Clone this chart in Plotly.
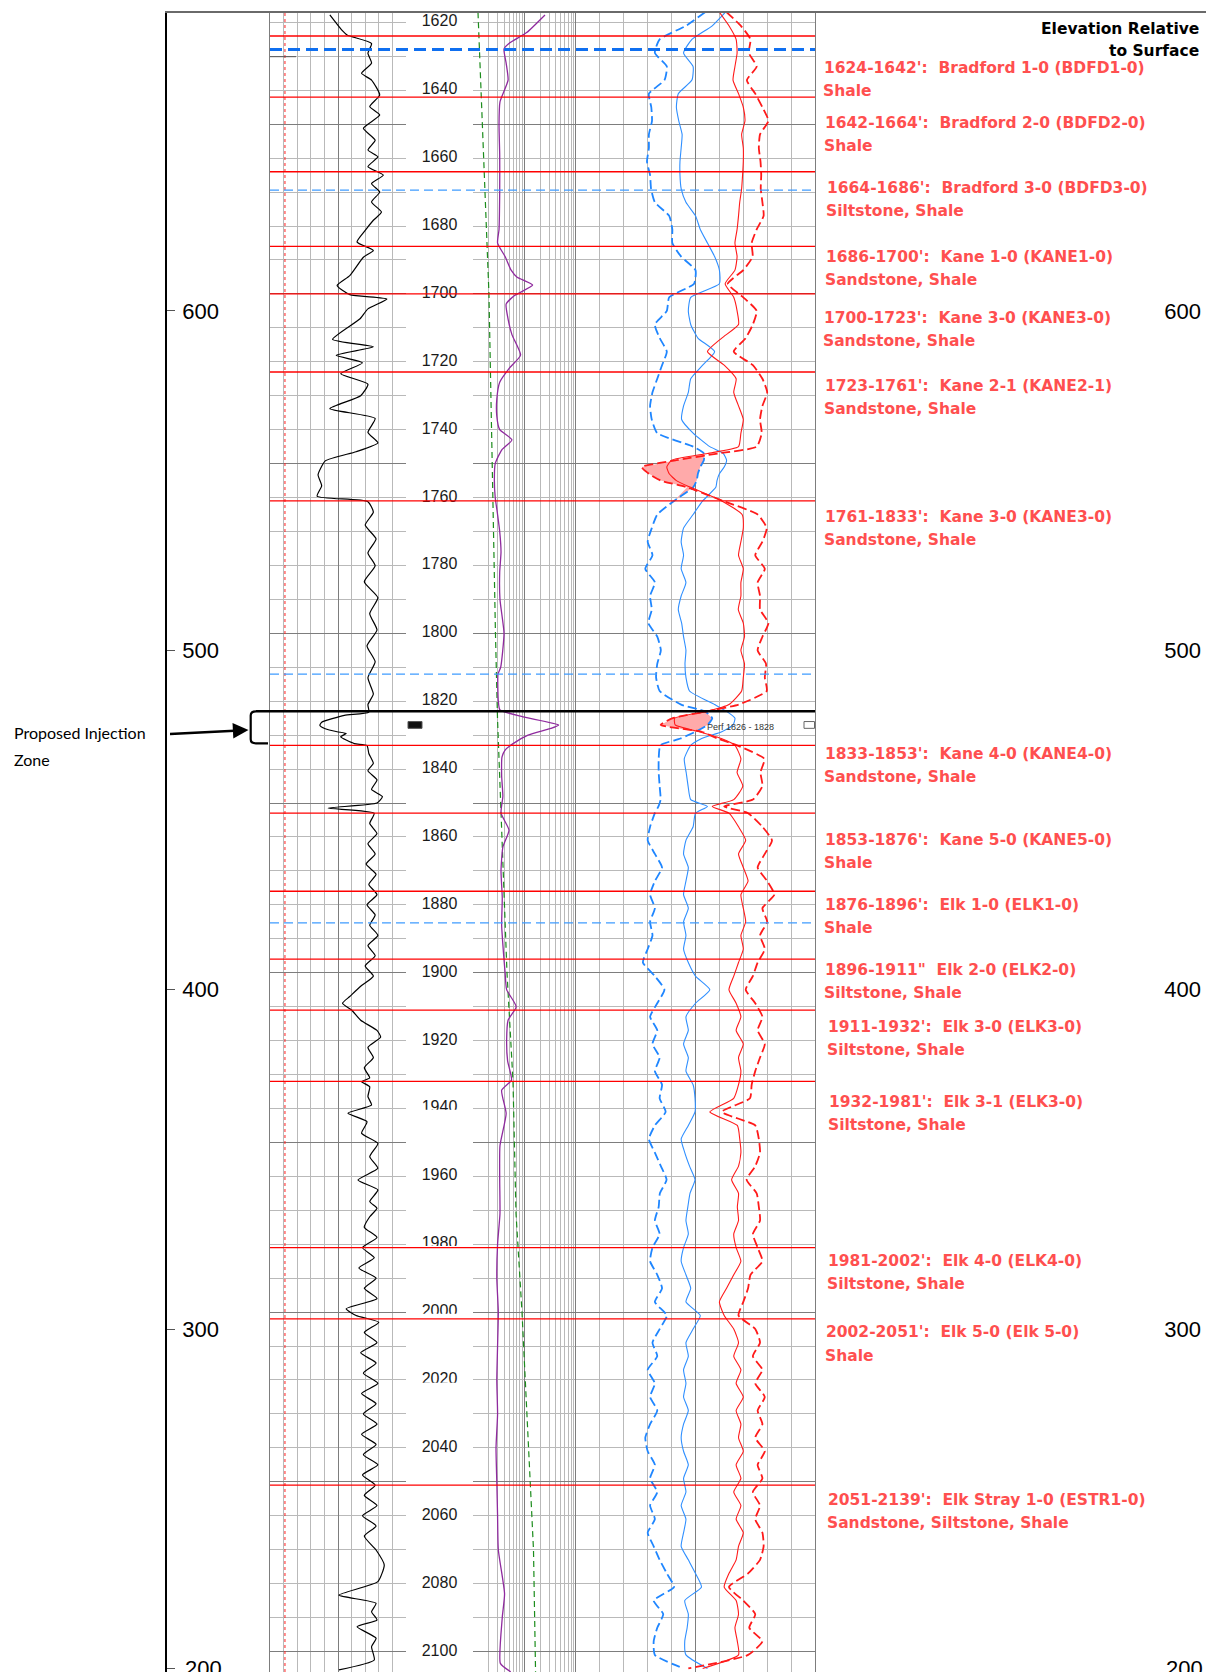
import plotly.graph_objects as go

# ---------------------------------------------------------------- data
KB_ELEV = 2305            # elevation = KB_ELEV - depth
TOP_DEPTH, BASE_DEPTH = 1617.23, 2106.04

formation_tops = [1624, 1642, 1664, 1686, 1700, 1723, 1761, 1833, 1853,
                  1876, 1896, 1911, 1932, 1981, 2002, 2051]
marker_thin = [1669.4, 1812, 1885.3]
marker_thick = 1628
injection_top, injection_base = 1823, 1832.4
perf_top, perf_base = 1826, 1828
bit_line_api = 16.5

zone_titles = [
    "1624-1642':  Bradford 1-0 (BDFD1-0)",
    "1642-1664':  Bradford 2-0 (BDFD2-0)",
    "1664-1686':  Bradford 3-0 (BDFD3-0)",
    "1686-1700':  Kane 1-0 (KANE1-0)",
    "1700-1723':  Kane 3-0 (KANE3-0)",
    "1723-1761':  Kane 2-1 (KANE2-1)",
    "1761-1833':  Kane 3-0 (KANE3-0)",
    "1833-1853':  Kane 4-0 (KANE4-0)",
    "1853-1876':  Kane 5-0 (KANE5-0)",
    "1876-1896':  Elk 1-0 (ELK1-0)",
    '1896-1911"  Elk 2-0 (ELK2-0)',
    "1911-1932':  Elk 3-0 (ELK3-0)",
    "1932-1981':  Elk 3-1 (ELK3-0)",
    "1981-2002':  Elk 4-0 (ELK4-0)",
    "2002-2051':  Elk 5-0 (Elk 5-0)",
    "2051-2139':  Elk Stray 1-0 (ESTR1-0)",
]
zone_lithology = [
    "Shale", "Shale", "Siltstone, Shale", "Sandstone, Shale", "Sandstone, Shale",
    "Sandstone, Shale", "Sandstone, Shale", "Sandstone, Shale", "Shale", "Shale",
    "Siltstone, Shale", "Siltstone, Shale", "Siltstone, Shale", "Siltstone, Shale",
    "Shale", "Sandstone, Siltstone, Shale",
]

depth_labels = list(range(1620, 2101, 20))
elev_ticks = [200, 300, 400, 500, 600]

# track 1: gamma ray (API, 0-150)
gr_depth = [1617.8, 1622.2, 1623.7, 1626.2, 1629.1, 1632.0, 1635.0, 1637.0, 1641.4, 1644.8,
            1647.3, 1651.2, 1654.7, 1657.6, 1659.6, 1662.5, 1665.0, 1667.5, 1670.0, 1672.9,
            1675.9, 1678.3, 1681.3, 1684.7, 1687.2, 1689.2, 1694.6, 1697.5, 1700.2, 1701.5,
            1704.4, 1707.4, 1713.4, 1715.6, 1718.1, 1720.3, 1723.5, 1726.6, 1730.0, 1733.8,
            1736.7, 1740.8, 1743.9, 1746.5, 1749.2, 1753.3, 1756.5, 1759.6, 1761.2, 1764.3,
            1768.1, 1772.2, 1776.3, 1780.1, 1784.8, 1789.5, 1794.2, 1799.0, 1803.7, 1808.4,
            1813.1, 1817.9, 1821.0, 1823.2, 1824.2, 1826.2, 1827.1, 1828.1, 1829.0, 1829.5,
            1830.5, 1832.5, 1833.1, 1835.4, 1838.3, 1840.5, 1843.2, 1846.0, 1848.1, 1850.0,
            1851.5, 1853.0, 1856, 1859, 1862, 1865, 1868, 1871, 1874, 1877,
            1880, 1883, 1886, 1889, 1892, 1895, 1898, 1901, 1904, 1907,
            1909, 1911, 1914, 1917, 1919, 1922, 1925, 1928, 1931, 1932.1,
            1933.6, 1936.5, 1939.0, 1941.4, 1943.9, 1947.3, 1950.3, 1954.2, 1957.6, 1961.1,
            1964.0, 1967.4, 1969.4, 1971.9, 1975, 1978, 1981, 1984, 1987, 1990,
            1993, 1996, 1999, 2001, 2003, 2006, 2009, 2012, 2015, 2018,
            2021, 2024, 2027, 2030, 2033, 2036, 2039, 2042, 2045, 2048,
            2051, 2054, 2057, 2060, 2063, 2066, 2070.1, 2074.5, 2079.4, 2083.4,
            2085.8, 2088.3, 2090.7, 2092.7, 2096.1, 2098.6, 2102.5, 2105.4]
gr_api = [66, 79, 85, 112, 108, 112, 101, 112, 121, 110,
          121, 103, 116, 108, 119, 108, 125, 112, 121, 112,
          123, 114, 105, 96, 114, 103, 88, 74, 88, 129,
          108, 99, 69, 114, 73, 102, 78, 108, 100, 66,
          116, 108, 119, 95, 61, 53, 57, 52, 108, 114,
          105, 117, 108, 116, 104, 119, 110, 118, 107, 116,
          108, 114, 108, 109, 82, 57, 55, 61, 74, 84,
          78, 93, 107, 109, 114, 108, 118, 112, 124, 118,
          64, 115, 110, 118, 108, 116, 106, 117, 109, 118,
          107, 116, 110, 119, 108, 116, 105, 114, 100, 88,
          80, 90, 100, 118, 122, 108, 114, 104, 110, 101,
          110, 108, 112, 86, 107, 101, 119, 110, 119, 97,
          119, 110, 118, 110, 104, 118, 102, 115, 98, 117,
          104, 118, 84, 95, 120, 104, 118, 100, 117, 103,
          119, 101, 117, 103, 118, 101, 117, 103, 119, 102,
          116, 104, 118, 102, 117, 104, 117, 126, 119, 76,
          117, 112, 118, 96, 117, 112, 115, 76]

# track 2: purple resistivity-type curve (log, 1-100) and green dashed curve
purple_depth = [1617.8, 1623, 1626, 1627.8, 1632, 1637, 1643.4, 1650, 1659, 1670,
                1681, 1685, 1689, 1693, 1695, 1697.4, 1700.4, 1703, 1707.4, 1712,
                1718, 1722, 1726, 1731, 1736, 1740, 1743, 1746, 1750, 1755,
                1760, 1765, 1770, 1776, 1782, 1790, 1800, 1810, 1812, 1820,
                1822.6, 1824.6, 1827, 1828, 1830, 1832.5, 1834.4, 1836.4, 1842, 1848,
                1853, 1858, 1863, 1870, 1878, 1886, 1894, 1900, 1905, 1910,
                1914, 1920, 1926, 1931.6, 1934.6, 1941.5, 1951, 1961, 1971, 1980,
                1990, 2000, 2010, 2020, 2030, 2040, 2050, 2060, 2070, 2083,
                2090, 2103.5, 2106]
purple_val = [25, 11, 5.2, 4.0, 4.4, 4.8, 3.34, 3.2, 3.3, 3.3,
              3.2, 3.0, 4.2, 5.5, 7.1, 14.4, 6.5, 4.4, 4.8, 5.7,
              8.4, 5.0, 3.3, 2.9, 2.9, 3.3, 5.7, 3.6, 2.7, 2.6,
              2.7, 3.0, 3.3, 3.5, 3.3, 3.34, 4.0, 3.45, 3.06, 3.1,
              3.34, 9.35, 46, 32.6, 11.7, 6.0, 4.2, 3.66, 3.6, 3.8,
              3.5, 5.0, 3.8, 3.5, 3.7, 3.6, 3.9, 4.2, 4.5, 6.9,
              4.8, 4.5, 4.7, 5.6, 3.6, 4.4, 3.34, 3.3, 3.34, 3.0,
              2.9, 3.1, 3.0, 2.9, 3.0, 2.8, 2.9, 3.0, 3.1, 4.1,
              3.7, 3.4, 5.4]
green_depth = [1617, 1700, 1800, 1825, 1900, 1932, 1971, 2000, 2070, 2106]
green_val = [1.25, 2.04, 2.73, 2.99, 4.57, 5.98, 6.84, 8.94, 14.95, 16.4]

# track 3: four curves on a common depth grid (0-100 track scale)
t3_depth = [1617, 1621, 1625, 1629, 1633, 1637, 1641, 1645, 1649, 1653,
            1657, 1661, 1665, 1669, 1673, 1677, 1681, 1685, 1689, 1693,
            1697, 1701, 1705, 1709, 1713, 1717, 1721, 1725, 1729, 1733,
            1737, 1741, 1745, 1747, 1749, 1751, 1753, 1755, 1757, 1761,
            1765, 1769, 1773, 1777, 1781, 1785, 1789, 1793, 1797, 1801,
            1805, 1809, 1813, 1817, 1821, 1823, 1825, 1827, 1829, 1831,
            1833, 1837, 1841, 1845, 1849, 1851, 1853, 1857, 1861, 1865,
            1869, 1873, 1877, 1881, 1885, 1889, 1893, 1897, 1901, 1905,
            1909, 1913, 1917, 1921, 1925, 1929, 1933, 1937, 1941, 1945,
            1949, 1953, 1957, 1961, 1965, 1969, 1973, 1977, 1981, 1985,
            1989, 1993, 1997, 2001, 2005, 2009, 2013, 2017, 2021, 2025,
            2029, 2033, 2037, 2041, 2045, 2049, 2053, 2057, 2061, 2065,
            2069, 2073, 2077, 2081, 2085, 2089, 2093, 2097, 2101, 2105]
blue_dash = [54, 46, 35, 33, 38, 37, 30.5, 31.5, 31.8, 30.5,
             30.5, 29.7, 31, 31.4, 33, 39, 40.3, 40.3, 44, 50,
             49.4, 39, 38, 33, 35, 38, 36, 34, 32, 31,
             31.7, 34, 49, 53.5, 53.5, 52, 51, 50.5, 49, 41,
             34, 31.7, 30, 32, 29, 33, 31, 31.7, 30.3, 34,
             35.5, 34, 33.5, 35, 44, 54, 57, 55, 50, 43.7,
             35.3, 34.6, 34.6, 35, 35.4, 34.5, 33, 31, 30, 33,
             36, 33, 31, 33, 31, 32, 30, 28, 33, 37,
             34, 31, 34, 32, 35, 33, 36, 35, 37.5, 33,
             30.5, 33, 35.5, 37.9, 35.1, 34.6, 33, 35, 32, 31,
             34, 36, 33, 38, 35, 32, 34, 30, 33, 31,
             34, 31, 29, 30, 33, 31, 34, 31, 33, 30,
             32.5, 35, 38, 41, 32.5, 36.5, 34, 32.5, 33, 45]
blue_solid = [62.5, 57, 48.5, 45, 49, 48.5, 42.8, 42, 43, 44.4,
              44, 43.5, 43.5, 44, 46, 50, 52, 55, 58, 60,
              60, 48, 47, 48, 51, 58, 53, 48, 47, 45,
              44.2, 49, 56, 61.6, 63, 62, 60, 59, 58.5, 53,
              49, 45, 44, 45, 44, 46, 44, 42.8, 44.2, 45,
              46, 45.6, 46, 47.5, 58, 63, 66.5, 65.7, 61, 52.6,
              48, 45.3, 46.1, 46.9, 48, 55, 50, 49, 46, 45,
              47, 46, 45, 47, 45, 46, 45, 47, 50, 56,
              50, 46, 47, 45, 47, 46, 49, 49.8, 49.8, 47,
              44, 45.5, 47.5, 49.8, 47.7, 46.8, 46, 47, 45, 44,
              46, 48, 46, 52, 49, 46, 47, 45, 46, 45,
              47, 45, 44, 45, 47, 45, 46, 44, 46, 45,
              44, 47, 50, 52.5, 45.5, 47, 46.5, 45.5, 46, 55]
red_solid = [60, 64, 67, 67.4, 66.5, 65.7, 68, 70, 70.7, 69.3,
             70, 70, 69.7, 69.3, 68.5, 68, 67.4, 66.5, 67.4, 66.5,
             62.4, 66, 67.4, 68, 61, 55, 62, 67, 66, 68,
             70, 69, 68, 55, 40, 38, 39, 42, 48, 61,
             69.5, 70, 69, 68, 70, 69, 69, 67.9, 70, 70.5,
             69, 70.5, 70, 69.3, 64, 55, 41.3, 41.5, 51.5, 60.8,
             66.5, 69, 67.4, 69.8, 66, 57, 64, 68, 71, 68,
             70, 72, 69, 70, 71, 69, 70, 68, 66, 64,
             67, 69, 67, 70, 68, 69, 68, 66, 56, 67.5,
             68.5, 69, 68, 65.1, 68, 67.5, 68, 66, 67, 69,
             66, 63, 60, 62, 66, 68, 66, 69, 67, 70,
             67, 69, 68, 70, 67, 69, 66, 69, 67, 70,
             68, 67, 64, 62, 67, 68, 66.5, 67.5, 68, 53]
red_dash = [63, 69, 73, 72.3, 75.6, 71.5, 75, 78, 80.5, 77,
            76.5, 77.2, 77.5, 77.3, 78, 78.5, 75.6, 73.5, 73.9, 70,
            63.5, 70, 75.6, 74, 71, 66, 74, 78, 80, 78,
            77, 77.7, 75.6, 59.5, 42, 27.5, 30.5, 35.5, 46.5, 61.6,
            76, 79.8, 78, 75, 79, 76, 77, 77, 80.5, 78,
            76, 79.5, 79, 79.8, 68, 54.8, 40.5, 35.4, 52.6, 59.2,
            67.4, 78.8, 77.2, 78, 74, 62, 72, 78, 82, 79,
            76, 80, 83, 78, 80, 77, 79, 76, 74, 71,
            75, 78, 76, 79, 77, 75, 73.5, 72.8, 61, 75,
            76.5, 77, 75, 71.4, 75.6, 76.5, 77, 74, 76, 78,
            73, 72, 70, 68, 75, 77, 74, 78, 75, 79,
            76, 78, 75, 79, 76, 78, 74, 77, 75, 78,
            78.5, 77, 72, 64, 70, 75, 72.5, 78, 72, 47]

# ---------------------------------------------------------------- layout helpers
# the page body keeps its default 8px margin, so the figure is 8px smaller
# and the margins are reduced by 8px to land the plot area where it belongs
BODY = 8
PAGE_W, PAGE_H = 1214, 1672
PLOT_L, PLOT_T = 167, 13          # plot area corner on the page
FIG_W, FIG_H = PAGE_W - BODY, PAGE_H - BODY
PLOT_W = PAGE_W - PLOT_L


def px(x):
    return (x - PLOT_L) / PLOT_W


TRACK1 = (px(270), px(406))
DEPTH_TRACK = (px(406), px(473))
TRACK2 = (px(473), px(576))
TRACK3 = (px(576), px(815))

GRID_MAJOR = "#7d7d7d"
GRID_MINOR = "#b9b9b9"
LABEL_RED = "#ff4f4f"
AXIS_FONT = "Arial, Liberation Sans, sans-serif"
LABEL_FONT = "DejaVu Sans, Verdana, sans-serif"

fig = go.Figure()

# frame / elevation axes need a trace each to be drawn
fig.add_trace(go.Scatter(x=[0.5], y=[400], xaxis="x", yaxis="y", mode="markers",
                         marker=dict(opacity=0), hoverinfo="skip", showlegend=False))
fig.add_trace(go.Scatter(x=[0.5], y=[400], xaxis="x", yaxis="y2", mode="markers",
                         marker=dict(opacity=0), hoverinfo="skip", showlegend=False))

# depth track labels
fig.add_trace(go.Scatter(x=[0.5] * len(depth_labels), y=depth_labels, xaxis="x5", yaxis="y6",
                         mode="text", text=[str(d) for d in depth_labels],
                         textposition="middle center",
                         textfont=dict(family=AXIS_FONT, size=16, color="#1a1a1a"),
                         hoverinfo="skip", showlegend=False))

# track 1
fig.add_trace(go.Scatter(x=[bit_line_api, bit_line_api], y=[TOP_DEPTH, BASE_DEPTH],
                         xaxis="x2", yaxis="y3", mode="lines",
                         line=dict(color="#ff2020", width=1, dash="dot"),
                         hoverinfo="skip", showlegend=False))
fig.add_trace(go.Scatter(x=gr_api, y=gr_depth, xaxis="x2", yaxis="y3", mode="lines",
                         line=dict(color="black", width=1.2, shape="spline", smoothing=0.5),
                         hoverinfo="skip", showlegend=False))

# track 2
fig.add_trace(go.Scatter(x=green_val, y=green_depth, xaxis="x3", yaxis="y4", mode="lines",
                         line=dict(color="#1c8c1c", width=1.2, dash="6px,4px"),
                         hoverinfo="skip", showlegend=False))
fig.add_trace(go.Scatter(x=purple_val, y=purple_depth, xaxis="x3", yaxis="y4", mode="lines",
                         line=dict(color="#8f2a9e", width=1.3, shape="spline", smoothing=0.5),
                         hoverinfo="skip", showlegend=False))

# track 3: crossover shading where the red dashed curve passes left of blue dashed
crossover = [min(r, b) for r, b in zip(red_dash, blue_dash)]
fig.add_trace(go.Scatter(x=blue_dash, y=t3_depth, xaxis="x4", yaxis="y5", mode="lines",
                         line=dict(width=0, color="rgba(0,0,0,0)"),
                         hoverinfo="skip", showlegend=False))
fig.add_trace(go.Scatter(x=crossover, y=t3_depth, xaxis="x4", yaxis="y5", mode="lines",
                         fill="tonextx", fillcolor="#ffaaaa",
                         line=dict(width=0, color="rgba(0,0,0,0)"),
                         hoverinfo="skip", showlegend=False))

t3_styles = [
    (blue_dash, dict(color="#1f86ff", width=1.8, dash="9px,4px")),
    (blue_solid, dict(color="#2f8fff", width=1.1)),
    (red_solid, dict(color="#ff1a1a", width=1.1)),
    (red_dash, dict(color="#ff1a1a", width=1.8, dash="9px,4px")),
]
for values, style in t3_styles:
    fig.add_trace(go.Scatter(x=values, y=t3_depth, xaxis="x4", yaxis="y5", mode="lines",
                             line=dict(shape="spline", smoothing=0.5, **style),
                             hoverinfo="skip", showlegend=False))

# ---------------------------------------------------------------- shapes
shapes = []

# depth labels partly hidden by blank boxes in the depth track
for cut in (1940.4, 1980.5, 2000.5, 2020.8):
    shapes.append(dict(type="rect", xref="paper", yref="y3", x0=px(407), x1=px(472),
                       y0=cut, y1=cut + 3.2, fillcolor="white", line=dict(width=0)))

for d in formation_tops:
    shapes.append(dict(type="line", xref="paper", yref="y3", x0=TRACK1[0], x1=TRACK3[1],
                       y0=d, y1=d, line=dict(color="#ff0000", width=1.3)))
for d in marker_thin:
    shapes.append(dict(type="line", xref="paper", yref="y3", x0=TRACK1[0], x1=TRACK3[1],
                       y0=d, y1=d, line=dict(color="#3f9cff", width=1.3, dash="9px,5px")))
shapes.append(dict(type="line", xref="paper", yref="y3", x0=TRACK1[0], x1=TRACK3[1],
                   y0=marker_thick, y1=marker_thick,
                   line=dict(color="#0f6ff0", width=3, dash="12px,6px")))
shapes.append(dict(type="line", xref="paper", yref="y3", x0=px(270), x1=px(296),
                   y0=1630.1, y1=1630.1, line=dict(color="#555555", width=1)))

# injection zone: top line plus bracket
bx, bx2, bx3 = px(250.7), px(256), px(268)
shapes.append(dict(type="line", xref="paper", yref="y3", x0=bx2, x1=TRACK3[1],
                   y0=injection_top, y1=injection_top, line=dict(color="black", width=2.5)))
shapes.append(dict(type="path", xref="paper", yref="y3",
                   path=(f"M {bx2},{injection_top} Q {bx},{injection_top} {bx},{injection_top + 1.2} "
                         f"L {bx},{injection_base - 1.2} Q {bx},{injection_base} {bx2},{injection_base} "
                         f"L {bx3},{injection_base}"),
                   line=dict(color="black", width=2.2)))

# perforation markers
shapes.append(dict(type="rect", xref="paper", yref="y3", x0=px(408), x1=px(422),
                   y0=perf_top, y1=perf_base, fillcolor="#111111",
                   line=dict(color="#555555", width=1)))
shapes.append(dict(type="rect", xref="paper", yref="y3", x0=px(804), x1=px(814.5),
                   y0=perf_top, y1=perf_base, fillcolor="white",
                   line=dict(color="#666666", width=1)))

# ---------------------------------------------------------------- annotations
ann = []
label_x = [822.4, 823, 825, 824.4, 821.5, 822.5, 822.5, 823, 822.5, 822.5,
           822.5, 826, 826.7, 825.7, 823.6, 825.7]
label_depth = [1633.3, 1649.7, 1668.7, 1689.0, 1707.1, 1727.2, 1765.8, 1835.6, 1860.8, 1880.0,
               1899.1, 1916.1, 1938.0, 1984.9, 2006.0, 2055.4]
for title, lith, x, d in zip(zone_titles, zone_lithology, label_x, label_depth):
    title = title.replace("  ", "\u00a0 ")
    for text, dy, dx in ((title, 0, 0), (lith, 6.8, -1)):
        ann.append(dict(x=px(x + dx), y=d + dy, xref="paper", yref="y3", xanchor="left",
                        text=f"<b>{text}</b>", showarrow=False,
                        font=dict(family=LABEL_FONT, size=15.5, color=LABEL_RED)))

ann.append(dict(x=px(1201), y=1621.9, xref="paper", yref="y3", xanchor="right",
                text="<b>Elevation Relative</b>", showarrow=False,
                font=dict(family=LABEL_FONT, size=15.5, color="black")))
ann.append(dict(x=px(1201), y=1628.4, xref="paper", yref="y3", xanchor="right",
                text="<b>to Surface</b>", showarrow=False,
                font=dict(family=LABEL_FONT, size=15.5, color="black")))

ann.append(dict(x=px(740), y=1827.7, xref="paper", yref="y3", text="Perf 1826 - 1828",
                showarrow=False, font=dict(family=AXIS_FONT, size=9, color="#333333")))

ann.append(dict(x=px(11.5), y=1829.3, xref="paper", yref="y3", xanchor="left",
                text="Proposed Injection", showarrow=False,
                font=dict(family="Lato, sans-serif", size=16, color="black")))
ann.append(dict(x=px(11.5), y=1837.3, xref="paper", yref="y3", xanchor="left",
                text="Zone", showarrow=False,
                font=dict(family="Lato, sans-serif", size=16, color="black")))
ann.append(dict(x=px(248.5), y=1828.5, xref="paper", yref="y3", text="",
                showarrow=True, arrowhead=2, arrowsize=1.3, arrowwidth=2.4,
                arrowcolor="black", axref="pixel", ayref="pixel", ax=-80, ay=4))

# lowest elevation label sits on the page edge (plotly hides clipped inside labels)
elev_font = dict(family=AXIS_FONT, size=22, color="black")
ann.append(dict(x=px(183), y=elev_ticks[0], xref="paper", yref="y", xanchor="left",
                text=str(elev_ticks[0]), showarrow=False, font=elev_font))
ann.append(dict(x=px(1205), y=elev_ticks[0], xref="paper", yref="y", xanchor="right",
                text=str(elev_ticks[0]), showarrow=False, font=elev_font))

# ---------------------------------------------------------------- axes
depth_axis = dict(
    range=[BASE_DEPTH, TOP_DEPTH], autorange=False, domain=[0, 1],
    showticklabels=False, ticks="", zeroline=False,
    showgrid=True, gridcolor=GRID_MAJOR, gridwidth=1, tick0=1600, dtick=50,
    minor=dict(dtick=10, showgrid=True, gridcolor=GRID_MINOR, gridwidth=1),
    showline=True, mirror=True, linecolor=GRID_MAJOR, linewidth=1,
)
elev_range = [KB_ELEV - BASE_DEPTH, KB_ELEV - TOP_DEPTH]
hidden_x = dict(range=[0, 1], showticklabels=False, ticks="", showgrid=False,
                zeroline=False, showline=False)

fig.update_layout(
    width=FIG_W, height=FIG_H,
    margin=dict(l=PLOT_L - BODY, r=0, t=PLOT_T - BODY, b=0, pad=0),
    paper_bgcolor="white", plot_bgcolor="white",
    showlegend=False,
    xaxis=dict(domain=[0, 1], range=[0, 1], side="top", showline=True, linecolor="#6a6a6a",
               linewidth=1.5, showgrid=False, showticklabels=False, ticks="", zeroline=False,
               anchor="y"),
    yaxis=dict(domain=[0, 1], range=elev_range, anchor="x", side="left",
               showline=True, linecolor="black", linewidth=1.5,
               ticks="inside", ticklen=8, tickcolor="#555555",
               ticklabelposition="inside", ticklabelstandoff=9,
               tickvals=elev_ticks, showgrid=False, zeroline=False, tickfont=elev_font),
    yaxis2=dict(range=elev_range, anchor="x", overlaying="y", side="right",
                showline=False, ticks="", ticklabelposition="inside", ticklabelstandoff=10,
                tickvals=elev_ticks, showgrid=False, zeroline=False, tickfont=elev_font),
    xaxis2=dict(domain=list(TRACK1), anchor="y3", range=[0, 150], showticklabels=False,
                ticks="", zeroline=False, showgrid=True, tickvals=[75], gridcolor=GRID_MAJOR,
                minor=dict(tickvals=[15, 30, 45, 60, 90, 105, 120, 135], showgrid=True,
                           gridcolor=GRID_MINOR)),
    yaxis3=dict(anchor="x2", **depth_axis),
    xaxis3=dict(domain=list(TRACK2), anchor="y4", type="log", range=[0, 2],
                showticklabels=False, ticks="", zeroline=False, showgrid=True,
                tickvals=[10], gridcolor=GRID_MAJOR,
                minor=dict(tickvals=[2, 3, 4, 5, 6, 7, 8, 9, 20, 30, 40, 50, 60, 70, 80, 90],
                           showgrid=True, gridcolor=GRID_MINOR)),
    yaxis4=dict(anchor="x3", matches="y3", **depth_axis),
    xaxis4=dict(domain=list(TRACK3), anchor="y5", range=[0, 100], showticklabels=False,
                ticks="", zeroline=False, showgrid=True, tickvals=[50], gridcolor=GRID_MAJOR,
                minor=dict(tickvals=[10, 20, 30, 40, 60, 70, 80, 90], showgrid=True,
                           gridcolor=GRID_MINOR)),
    yaxis5=dict(anchor="x4", matches="y3", **depth_axis),
    xaxis5=dict(domain=list(DEPTH_TRACK), anchor="y6", **hidden_x),
    yaxis6=dict(anchor="x5", matches="y3", range=[BASE_DEPTH, TOP_DEPTH], autorange=False,
                domain=[0, 1], showticklabels=False, ticks="", showgrid=False,
                zeroline=False, showline=False),
    shapes=shapes,
    annotations=ann,
)

fig.write_html("out.html")
